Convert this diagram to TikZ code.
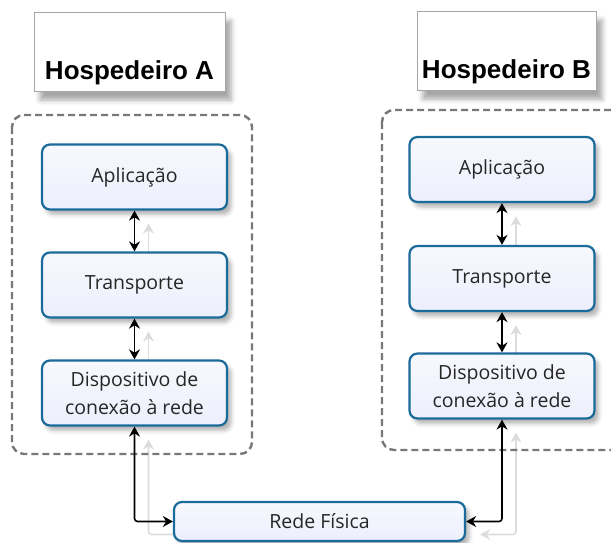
\documentclass[tikz,border=0pt]{standalone}
\usepackage{fontspec}
\setmainfont{Open Sans}
\newfontfamily\hostfont{Liberation Sans}
\usetikzlibrary{arrows.meta,shadows.blur,backgrounds}
\definecolor{boxblue}{RGB}{27,107,154}
\definecolor{boxfill}{RGB}{236,239,252}
\definecolor{framegray}{RGB}{120,120,120}
\definecolor{shadowgray}{RGB}{220,220,220}
\tikzset{
  camada/.style={draw=boxblue, line width=2.2pt, rounded corners=8pt, top color=white!60!boxfill, bottom color=boxfill,
    minimum width=185pt, minimum height=65pt, align=center, text=black!85,
    font=\fontsize{19.5}{28}\selectfont,
    blur shadow={shadow xshift=4pt, shadow yshift=-5pt, shadow blur radius=4pt, shadow opacity=30}},
  hospedeiro/.style={draw=black!35, line width=1pt, fill=white, inner ysep=6.5pt,
    text height=60.5pt, text depth=5.5pt, font=\hostfont\bfseries\fontsize{26}{30}\selectfont,
    blur shadow={shadow xshift=6pt, shadow yshift=-8pt, shadow blur radius=5pt, shadow opacity=35}},
  moldura/.style={draw=framegray, line width=2.4pt, dash pattern=on 7pt off 4pt, rounded corners=12pt},
  seta/.style={line width=1.6pt, rounded corners=3pt, {Stealth[length=10pt,width=11pt]}-{Stealth[length=10pt,width=11pt]}},
  reflexo/.style={draw=shadowgray, line width=1.6pt, rounded corners=3pt, {Stealth[length=10pt,width=11pt]}-{Stealth[length=10pt,width=11pt]}}
}
\begin{document}
\begin{tikzpicture}[x=1pt,y=-1pt]
\useasboundingbox (0,0) rectangle (611,543);

\node[hospedeiro, minimum width=191pt] (hostA) at (129.5,52.5) {Hospedeiro A};
\node[hospedeiro, minimum width=179pt] (hostB) at (506.5,51.5) {Hospedeiro B};

\draw[moldura] (12,115) rectangle (252,454);
\draw[moldura] (382,110) rectangle (660,450);

\node[camada] (apA) at (134.5,177) {Aplicação};
\node[camada] (trA) at (134.5,285) {Transporte};
\node[camada] (diA) at (134.5,393) {Dispositivo de\\conexão à rede};

\node[camada] (apB) at (502,169.5) {Aplicação};
\node[camada] (trB) at (502,278.5) {Transporte};
\node[camada] (diB) at (502,386) {Dispositivo de\\conexão à rede};

\node[camada, minimum width=291pt, minimum height=39pt] (rede) at (319.5,521.5) {Rede Física};

\draw[seta] (apA) -- (trA);
\draw[seta] (trA) -- (diA);
\draw[seta] (diA) |- (rede);
\draw[seta] (apB) -- (trB);
\draw[seta] (trB) -- (diB);
\draw[seta] (diB) |- (rede);

\begin{scope}[on background layer]
\draw[reflexo] ([shift={(14,13)}]apA.south) -- ([shift={(14,13)}]trA.north);
\draw[reflexo] ([shift={(14,13)}]trA.south) -- ([shift={(14,13)}]diA.north);
\draw[reflexo] ([shift={(14,13)}]diA.south) |- ([shift={(14,13)}]rede.west);
\draw[reflexo] ([shift={(14,13)}]apB.south) -- ([shift={(14,13)}]trB.north);
\draw[reflexo] ([shift={(14,13)}]trB.south) -- ([shift={(14,13)}]diB.north);
\draw[reflexo] ([shift={(14,13)}]diB.south) |- ([shift={(14,13)}]rede.east);
\end{scope}
\end{tikzpicture}
\end{document}
